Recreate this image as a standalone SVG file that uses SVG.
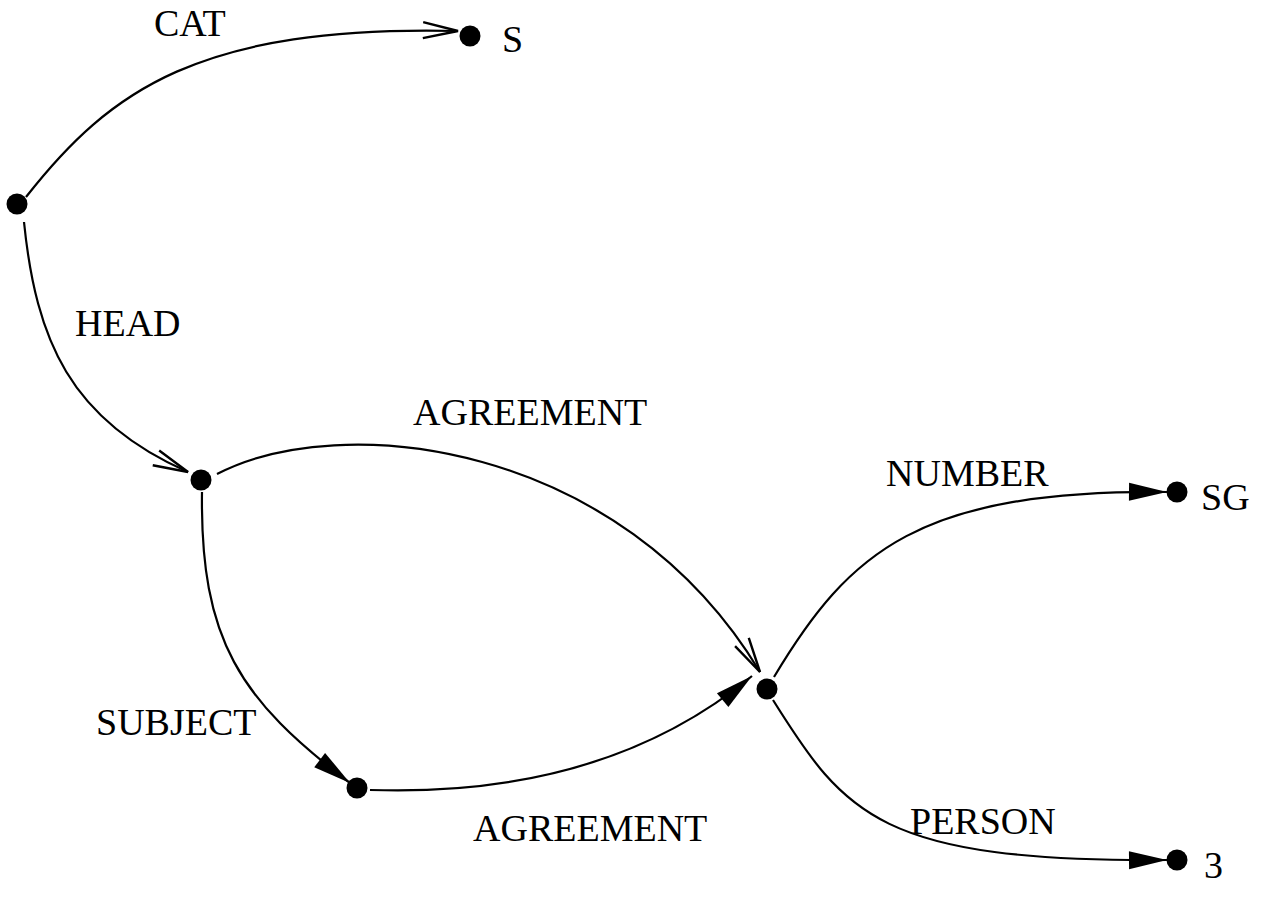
<svg xmlns="http://www.w3.org/2000/svg" width="1267" height="905" viewBox="0 0 1267 905">
<style>
.edge{fill:none;stroke:#000;stroke-width:2.2}
.node{fill:#000}
.lbl{font-family:"Liberation Serif","Times New Roman",serif;font-size:38px;fill:#000}
</style>
<defs>
<marker id="open" markerUnits="userSpaceOnUse" markerWidth="40" markerHeight="24" viewBox="-38 -12 40 24" refX="0" refY="0" orient="auto">
<path d="M-35,-8 L0,0 L-35,8" fill="none" stroke="#000" stroke-width="2.4"/>
</marker>
<marker id="fill" markerUnits="userSpaceOnUse" markerWidth="42" markerHeight="24" viewBox="-40 -12 42 24" refX="0" refY="0" orient="auto">
<path d="M0,0 L-38,-9 L-38,9 Z" fill="#000"/>
</marker>
</defs>
<rect width="1267" height="905" fill="#fff"/>
<g id="connectors">
<path class="edge" d="M26,197 C110,90 200,25 458,31" marker-end="url(#open)"/>
<path class="edge" d="M24,222 C36,340 70,420 188,472" marker-end="url(#open)"/>
<path class="edge" d="M217,474 C340,410 620,440 760,672" marker-end="url(#open)"/>
<path class="edge" d="M202,492 C200,640 240,700 350,783" marker-end="url(#fill)"/>
<path class="edge" d="M370,790 C520,795 650,760 752,676" marker-end="url(#fill)"/>
<path class="edge" d="M774,677 C850,550 920,490 1167,492" marker-end="url(#fill)"/>
<path class="edge" d="M773,700 C845,815 880,862 1167,860" marker-end="url(#fill)"/>
</g>
<g id="n-root"><circle class="node" cx="17" cy="204" r="10.5"/></g>
<g id="n-S"><circle class="node" cx="470" cy="36" r="10.5"/><text class="lbl" x="502" y="52">S</text></g>
<g id="n-head"><circle class="node" cx="201" cy="480" r="10.5"/></g>
<g id="n-subj"><circle class="node" cx="357" cy="788" r="10.5"/></g>
<g id="n-agr"><circle class="node" cx="767" cy="689" r="10.5"/></g>
<g id="n-SG"><circle class="node" cx="1177" cy="492" r="10.5"/><text class="lbl" x="1201" y="510">SG</text></g>
<g id="n-3"><circle class="node" cx="1177" cy="860" r="10.5"/><text class="lbl" x="1204" y="878">3</text></g>
<g id="labels">
<text class="lbl" x="154" y="36">CAT</text>
<text class="lbl" x="75" y="336">HEAD</text>
<text class="lbl" x="413" y="425">AGREEMENT</text>
<text class="lbl" x="886" y="486">NUMBER</text>
<text class="lbl" x="96" y="735">SUBJECT</text>
<text class="lbl" x="473" y="841">AGREEMENT</text>
<text class="lbl" x="910" y="834">PERSON</text>
</g>
</svg>
